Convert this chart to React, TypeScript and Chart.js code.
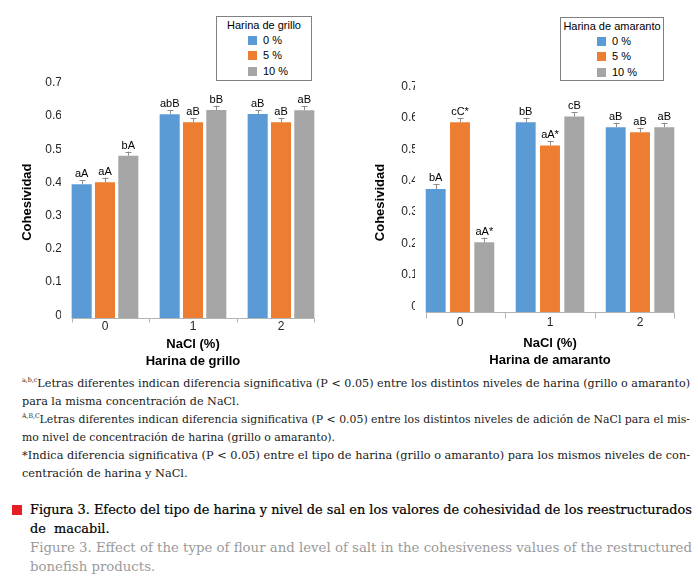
import React, { useEffect, useLayoutEffect, useRef } from "react";
import { Chart, registerables } from "chart.js";

Chart.register(...registerables);

// ---------- data ----------
const naclLevels = ["0", "1", "2"];
const flourLevels = ["0 %", "5 %", "10 %"];
const barColors = ["#5B9BD5", "#ED7D31", "#A5A5A5"];
const yMin = 0;
const yMax = 0.7;
const yStep = 0.1;

// Harina de grillo
const grillo0 = [0.404, 0.615, 0.616];
const grillo5 = [0.41, 0.591, 0.591];
const grillo10 = [0.49, 0.628, 0.627];
const grilloErr0 = [0.012, 0.012, 0.012];
const grilloErr5 = [0.014, 0.012, 0.012];
const grilloErr10 = [0.012, 0.013, 0.013];
const grilloTag0 = ["aA", "abB", "aB"];
const grilloTag5 = ["aA", "aB", "aB"];
const grilloTag10 = ["bA", "bB", "aB"];

// Harina de amaranto
const amaranto0 = [0.393, 0.606, 0.59];
const amaranto5 = [0.606, 0.532, 0.574];
const amaranto10 = [0.223, 0.624, 0.59];
const amarantoErr0 = [0.015, 0.014, 0.014];
const amarantoErr5 = [0.013, 0.014, 0.014];
const amarantoErr10 = [0.015, 0.013, 0.014];
const amarantoTag0 = ["bA", "bB", "aB"];
const amarantoTag5 = ["cC*", "aA*", "aB"];
const amarantoTag10 = ["aA*", "cB", "aB"];

const SANS = '"Liberation Sans", Arial, sans-serif';
const SERIF = '"DejaVu Serif", "Liberation Serif", serif';

// ---------- plugin: custom x axis line, error bars + letters ----------
const annotatePlugin = {
  id: "annotate",
  afterDatasetsDraw(chart: any, _args: any, opts: any) {
    const ctx = chart.ctx;
    const yScale = chart.scales.y;
    const xScale = chart.scales.x;
    const n = chart.data.datasets.length;

    // x axis line spanning the bar groups, with ticks between categories
    const m0 = chart.getDatasetMeta(0);
    const mN = chart.getDatasetMeta(n - 1);
    const first = m0.data[0];
    const last = mN.data[mN.data.length - 1];
    const x0 = first.x - first.width / 2;
    const x1 = last.x + last.width / 2;
    const yb = Math.round(chart.chartArea.bottom) + 0.5;
    ctx.save();
    ctx.strokeStyle = "#b4b4b4";
    ctx.lineWidth = 1;
    ctx.beginPath();
    ctx.moveTo(x0, yb);
    ctx.lineTo(x1, yb);
    const tickXs = [x0, x1];
    for (let i = 0; i < chart.data.labels.length - 1; i++) {
      tickXs.push((xScale.getPixelForValue(i) + xScale.getPixelForValue(i + 1)) / 2);
    }
    tickXs.forEach((tx) => {
      const px = Math.round(tx) + 0.5;
      ctx.moveTo(px, yb);
      ctx.lineTo(px, yb + opts.tickLen);
    });
    ctx.stroke();
    ctx.restore();

    chart.data.datasets.forEach((ds: any, di: number) => {
      const meta = chart.getDatasetMeta(di);
      meta.data.forEach((bar: any, i: number) => {
        const v = ds.data[i];
        const e = opts.errors[di][i];
        const yTop = yScale.getPixelForValue(v + e);
        const x = Math.round(bar.x) + 0.5;
        ctx.save();
        ctx.strokeStyle = "#8c8c8c";
        ctx.lineWidth = 1;
        ctx.beginPath();
        ctx.moveTo(x, bar.y);
        ctx.lineTo(x, yTop);
        ctx.moveTo(x - 3, Math.round(yTop) + 0.5);
        ctx.lineTo(x + 3, Math.round(yTop) + 0.5);
        ctx.stroke();
        ctx.fillStyle = "#000";
        ctx.font = `11px ${SANS}`;
        ctx.textAlign = "center";
        ctx.textBaseline = "middle";
        ctx.fillText(opts.tags[di][i], bar.x, yTop - 6);
        ctx.restore();
      });
    });
  },
};

type Params = {
  values: number[][];
  errors: number[][];
  tags: string[][];
  flourTitle: string;
  padLeft: number;
  padRight: number;
  padTop: number;
  yWidth: number;
  xHeight: number;
  tickLen: number;
  xTickPad: number;
  titleBottom: number;
  yTickPad: number;
  yLabelOffset: number;
  catPct: number;
  barPct: number;
};

function makeConfig(p: Params): any {
  return {
    type: "bar",
    data: {
      labels: naclLevels,
      datasets: flourLevels.map((lvl, k) => ({
        label: lvl,
        data: p.values[k],
        backgroundColor: barColors[k],
        borderWidth: 0,
        categoryPercentage: p.catPct,
        barPercentage: p.barPct,
      })),
    },
    options: {
      responsive: false,
      maintainAspectRatio: false,
      animation: false,
      events: [],
      layout: { padding: { left: p.padLeft, right: p.padRight, top: p.padTop, bottom: 0 } },
      plugins: {
        legend: { display: false },
        tooltip: { enabled: false },
        annotate: { errors: p.errors, tags: p.tags, tickLen: p.tickLen },
      },
      scales: {
        x: {
          grid: { display: false, drawTicks: false },
          border: { display: false },
          ticks: { font: { family: SANS, size: 12 }, color: "#262626", padding: p.xTickPad },
          title: {
            display: true,
            text: ["NaCl (%)", p.flourTitle],
            color: "#000",
            font: { family: SANS, size: 13, weight: "bold", lineHeight: 17 / 13 },
            padding: { top: 0, bottom: p.titleBottom },
          },
          afterFit: (s: any) => {
            s.height = p.xHeight;
          },
        },
        y: {
          min: yMin,
          max: yMax,
          grid: { display: false, drawTicks: false },
          border: { display: false },
          ticks: {
            stepSize: yStep,
            font: { family: SANS, size: 12 },
            color: "#262626",
            padding: p.yTickPad,
            labelOffset: p.yLabelOffset,
            callback: (v: any) => Number(v).toFixed(1).replace(/\.0$/, ""),
          },
          title: {
            display: true,
            text: "Cohesividad",
            color: "#000",
            font: { family: SANS, size: 13, weight: "bold", lineHeight: 1.2 },
            padding: { top: 0, bottom: 0 },
          },
          afterFit: (s: any) => {
            s.width = p.yWidth;
          },
        },
      },
    },
    plugins: [annotatePlugin],
  };
}

function BarChart({ params, left, width, height }: { params: Params; left: number; width: number; height: number }) {
  const ref = useRef<HTMLCanvasElement | null>(null);
  useEffect(() => {
    if (!ref.current) return;
    const chart = new Chart(ref.current, makeConfig(params));
    return () => chart.destroy();
  }, []);
  return (
    <canvas
      ref={ref}
      width={width}
      height={height}
      style={{ position: "absolute", left, top: 0, width, height }}
    />
  );
}

function LegendBox({ left, top, width, height, title, swatchX, textX }: any) {
  const rows = [24, 39, 55];
  return (
    <div
      style={{
        position: "absolute",
        left,
        top,
        width,
        height,
        border: "1px solid #808080",
        boxSizing: "border-box",
        background: "#fff",
        fontFamily: SANS,
        fontSize: 11,
        color: "#000",
      }}
    >
      <div style={{ position: "absolute", left: 0, width: "100%", top: 1, textAlign: "center", lineHeight: "14px" }}>
        {title}
      </div>
      {flourLevels.map((lvl, k) => (
        <React.Fragment key={lvl}>
          <div
            style={{
              position: "absolute",
              left: swatchX,
              top: rows[k] - 5,
              width: 9,
              height: 9,
              background: barColors[k],
            }}
          />
          <div style={{ position: "absolute", left: textX, top: rows[k] - 8, lineHeight: "14px" }}>{lvl}</div>
        </React.Fragment>
      ))}
    </div>
  );
}

const grilloParams: Params = {
  values: [grillo0, grillo5, grillo10],
  errors: [grilloErr0, grilloErr5, grilloErr10],
  tags: [grilloTag0, grilloTag5, grilloTag10],
  flourTitle: "Harina de grillo",
  padLeft: 20,
  padRight: 20,
  padTop: 86,
  yWidth: 41,
  xHeight: 53.7,
  tickLen: 4,
  xTickPad: 1,
  titleBottom: 2.5,
  yTickPad: -1,
  yLabelOffset: -3,
  catPct: 0.795,
  barPct: 0.86,
};

const amarantoParams: Params = {
  values: [amaranto0, amaranto5, amaranto10],
  errors: [amarantoErr0, amarantoErr5, amarantoErr10],
  tags: [amarantoTag0, amarantoTag5, amarantoTag10],
  flourTitle: "Harina de amaranto",
  padLeft: 28,
  padRight: 13,
  padTop: 92.7,
  yWidth: 42,
  xHeight: 59.7,
  tickLen: 6,
  xTickPad: 3,
  titleBottom: 3.5,
  yTickPad: -3,
  yLabelOffset: -6,
  catPct: 0.81,
  barPct: 0.82,
};

type Line = { content: any; justify: boolean };

function Para({ lines, left, top, width, lh, style }: { lines: Line[]; left: number; top: number; width: number; lh: number; style: any }) {
  const refs = useRef<(HTMLSpanElement | null)[]>([]);
  useLayoutEffect(() => {
    const scales: number[] = [];
    lines.forEach((l, i) => {
      const el = refs.current[i];
      if (!el || !l.justify) return;
      const w = el.getBoundingClientRect().width;
      if (w > 0) {
        const s = width / w;
        el.style.transform = `scaleX(${s})`;
        scales.push(s);
      }
    });
    const avg = scales.length ? scales.reduce((a, b) => a + b, 0) / scales.length : 1;
    lines.forEach((l, i) => {
      const el = refs.current[i];
      if (el && !l.justify) el.style.transform = `scaleX(${avg})`;
    });
  }, []);
  return (
    <div style={{ position: "absolute", left, top, width, ...style }}>
      {lines.map((l, i) => (
        <div key={i} style={{ height: lh, lineHeight: lh + "px", whiteSpace: "pre" }}>
          <span
            ref={(el) => {
              refs.current[i] = el;
            }}
            style={{ display: "inline-block", transformOrigin: "0 0" }}
          >
            {l.content}
          </span>
        </div>
      ))}
    </div>
  );
}

const sup = (t: string) => (
  <span style={{ fontSize: 6.5, verticalAlign: "top", lineHeight: "12px" }}>{t}</span>
);

const noteStyle = { fontFamily: SERIF, fontSize: 11.5, color: "#1a1a1a" };
const capEsStyle = { fontFamily: SERIF, fontSize: 13, color: "#000", WebkitTextStroke: "0.2px #000" };
const capEnStyle = { fontFamily: SERIF, fontSize: 13, color: "#9a9a9a" };

export default function App() {
  return (
    <div
      style={{
        position: "absolute",
        left: 0,
        top: 0,
        width: 698,
        height: 584,
        background: "#fff",
        overflow: "hidden",
      }}
    >
      <BarChart params={grilloParams} left={0} width={345} height={372} />
      <BarChart params={amarantoParams} left={345} width={353} height={372} />
      <LegendBox left={216} top={16} width={96} height={65} title="Harina de grillo" swatchX={31} textX={46} />
      <LegendBox left={560} top={17} width={104} height={64} title="Harina de amaranto" swatchX={36} textX={51} />

      <Para
        left={22}
        top={374}
        width={668}
        lh={18}
        style={noteStyle}
        lines={[
          { content: <>{sup("a,b,c")}Letras diferentes indican diferencia significativa (P &lt; 0.05) entre los distintos niveles de harina (grillo o amaranto)</>, justify: true },
          { content: <>para la misma concentración de NaCl.</>, justify: false },
        ]}
      />
      <Para
        left={22}
        top={410}
        width={668}
        lh={18}
        style={noteStyle}
        lines={[
          { content: <>{sup("A,B,C")}Letras diferentes indican diferencia significativa (P &lt; 0.05) entre los distintos niveles de adición de NaCl para el mis-</>, justify: true },
          { content: <>mo nivel de concentración de harina (grillo o amaranto).</>, justify: false },
        ]}
      />
      <Para
        left={22}
        top={446}
        width={668}
        lh={18}
        style={noteStyle}
        lines={[
          { content: <>*Indica diferencia significativa (P &lt; 0.05) entre el tipo de harina (grillo o amaranto) para los mismos niveles de con-</>, justify: true },
          { content: <>centración de harina y NaCl.</>, justify: false },
        ]}
      />

      <div style={{ position: "absolute", left: 12, top: 505, width: 10, height: 10, background: "#E31E24" }} />
      <Para
        left={30}
        top={500}
        width={662}
        lh={19}
        style={capEsStyle}
        lines={[
          { content: "Figura 3. Efecto del tipo de harina y nivel de sal en los valores de cohesividad de los reestructurados", justify: true },
          { content: "de  macabil.", justify: false },
        ]}
      />
      <Para
        left={30}
        top={538}
        width={662}
        lh={19}
        style={capEnStyle}
        lines={[
          { content: "Figure 3. Effect of the type of flour and level of salt in the cohesiveness values of the restructured", justify: true },
          { content: "bonefish products.", justify: false },
        ]}
      />
    </div>
  );
}
